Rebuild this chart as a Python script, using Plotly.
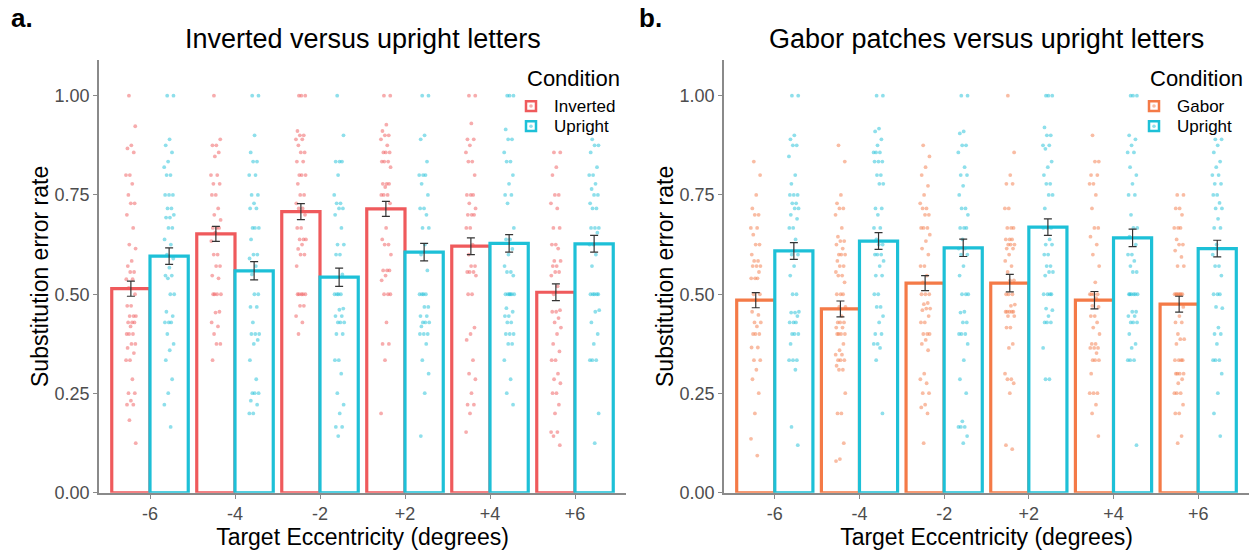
import plotly.graph_objects as go

# ---------------- data ----------------
ecc_labels = ["-6", "-4", "-2", "+2", "+4", "+6"]

# Panel a: Inverted vs Upright (bar = mean, err = SE)
inv_mean = [0.514, 0.652, 0.708, 0.715, 0.621, 0.505]
inv_se = [0.019, 0.019, 0.020, 0.019, 0.021, 0.021]
upa_mean = [0.596, 0.559, 0.543, 0.606, 0.628, 0.627]
upa_se = [0.021, 0.023, 0.023, 0.022, 0.022, 0.021]

# Panel b: Gabor vs Upright
gab_mean = [0.485, 0.463, 0.528, 0.528, 0.485, 0.475]
gab_se = [0.019, 0.020, 0.019, 0.022, 0.022, 0.020]
upb_mean = [0.609, 0.634, 0.617, 0.669, 0.642, 0.615]
upb_se = [0.021, 0.021, 0.022, 0.021, 0.022, 0.021]

# individual participant rates
inv_pts = [
    [1.00, 0.923, 0.875, 0.867, 0.857, 0.80, 0.80, 0.778, 0.75, 0.729, 0.729, 0.70, 0.667, 0.625, 0.615, 0.584, 0.571, 0.556, 0.556, 0.538, 0.538, 0.516, 0.50, 0.471, 0.471, 0.445, 0.445, 0.445, 0.429, 0.429, 0.429, 0.419, 0.40, 0.40, 0.40, 0.375, 0.375, 0.365, 0.352, 0.334, 0.334, 0.286, 0.251, 0.251, 0.232, 0.222, 0.222, 0.183, 0.125],
    [1.00, 0.89, 0.875, 0.875, 0.857, 0.847, 0.80, 0.80, 0.778, 0.778, 0.75, 0.75, 0.716, 0.70, 0.687, 0.667, 0.667, 0.667, 0.655, 0.634, 0.60, 0.60, 0.571, 0.571, 0.547, 0.54, 0.50, 0.50, 0.50, 0.50, 0.456, 0.454, 0.429, 0.419, 0.40, 0.375, 0.375, 0.334],
    [1.00, 1.00, 1.00, 0.911, 0.90, 0.90, 0.89, 0.89, 0.875, 0.857, 0.857, 0.834, 0.834, 0.80, 0.80, 0.80, 0.778, 0.75, 0.75, 0.729, 0.716, 0.716, 0.70, 0.667, 0.667, 0.638, 0.638, 0.638, 0.625, 0.614, 0.60, 0.60, 0.571, 0.50, 0.50, 0.50, 0.50, 0.50, 0.471, 0.471, 0.445, 0.429, 0.40],
    [1.00, 1.00, 0.927, 0.911, 0.90, 0.90, 0.89, 0.875, 0.857, 0.857, 0.857, 0.834, 0.834, 0.834, 0.82, 0.778, 0.778, 0.778, 0.77, 0.75, 0.75, 0.75, 0.729, 0.667, 0.638, 0.625, 0.625, 0.60, 0.56, 0.56, 0.56, 0.547, 0.535, 0.50, 0.50, 0.50, 0.429, 0.375, 0.375, 0.334, 0.20],
    [1.00, 1.00, 0.93, 0.89, 0.89, 0.875, 0.857, 0.834, 0.834, 0.80, 0.75, 0.75, 0.75, 0.729, 0.716, 0.70, 0.70, 0.70, 0.667, 0.667, 0.625, 0.60, 0.571, 0.571, 0.556, 0.556, 0.556, 0.547, 0.50, 0.50, 0.416, 0.40, 0.385, 0.334, 0.30, 0.286, 0.251, 0.222, 0.222, 0.20, 0.153],
    [0.857, 0.857, 0.82, 0.80, 0.75, 0.75, 0.729, 0.716, 0.667, 0.667, 0.625, 0.625, 0.615, 0.584, 0.584, 0.571, 0.571, 0.556, 0.556, 0.547, 0.52, 0.50, 0.46, 0.456, 0.456, 0.44, 0.429, 0.416, 0.40, 0.375, 0.356, 0.334, 0.334, 0.30, 0.286, 0.276, 0.251, 0.251, 0.222, 0.20, 0.153, 0.153, 0.143, 0.12],
]
upa_pts = [
    [1.00, 1.00, 0.89, 0.875, 0.857, 0.834, 0.82, 0.80, 0.80, 0.75, 0.75, 0.75, 0.716, 0.716, 0.70, 0.693, 0.693, 0.667, 0.667, 0.638, 0.625, 0.60, 0.59, 0.567, 0.547, 0.547, 0.54, 0.50, 0.50, 0.456, 0.445, 0.429, 0.429, 0.429, 0.40, 0.375, 0.359, 0.334, 0.286, 0.251, 0.222, 0.166],
    [1.00, 1.00, 0.90, 0.857, 0.834, 0.834, 0.80, 0.80, 0.75, 0.75, 0.729, 0.716, 0.716, 0.667, 0.667, 0.667, 0.638, 0.60, 0.60, 0.59, 0.571, 0.55, 0.50, 0.50, 0.468, 0.468, 0.429, 0.40, 0.40, 0.40, 0.385, 0.375, 0.334, 0.286, 0.251, 0.251, 0.251, 0.232, 0.222, 0.20, 0.20],
    [1.00, 0.90, 0.834, 0.834, 0.834, 0.80, 0.75, 0.729, 0.729, 0.716, 0.716, 0.70, 0.667, 0.625, 0.625, 0.60, 0.60, 0.55, 0.50, 0.50, 0.50, 0.50, 0.464, 0.461, 0.445, 0.445, 0.429, 0.429, 0.429, 0.40, 0.40, 0.334, 0.334, 0.30, 0.251, 0.222, 0.20, 0.166, 0.166, 0.143],
    [1.00, 1.00, 0.90, 0.89, 0.834, 0.80, 0.80, 0.80, 0.778, 0.75, 0.716, 0.716, 0.70, 0.667, 0.667, 0.625, 0.60, 0.56, 0.50, 0.50, 0.50, 0.50, 0.468, 0.468, 0.445, 0.445, 0.429, 0.429, 0.429, 0.419, 0.40, 0.40, 0.40, 0.375, 0.334, 0.30, 0.251, 0.143],
    [1.00, 1.00, 1.00, 0.915, 0.89, 0.89, 0.857, 0.834, 0.834, 0.80, 0.778, 0.75, 0.75, 0.729, 0.667, 0.638, 0.638, 0.614, 0.60, 0.571, 0.556, 0.556, 0.547, 0.50, 0.50, 0.50, 0.50, 0.50, 0.50, 0.465, 0.456, 0.445, 0.445, 0.429, 0.429, 0.40, 0.40, 0.40, 0.375, 0.375, 0.334, 0.286, 0.251, 0.222],
    [0.89, 0.875, 0.875, 0.857, 0.82, 0.80, 0.80, 0.778, 0.765, 0.75, 0.75, 0.729, 0.716, 0.716, 0.667, 0.667, 0.667, 0.655, 0.625, 0.625, 0.60, 0.571, 0.50, 0.50, 0.50, 0.50, 0.50, 0.46, 0.456, 0.429, 0.40, 0.375, 0.334, 0.334, 0.334, 0.20, 0.125],
]
gab_pts = [
    [0.834, 0.80, 0.75, 0.716, 0.70, 0.70, 0.667, 0.667, 0.65, 0.625, 0.625, 0.60, 0.584, 0.584, 0.571, 0.571, 0.571, 0.556, 0.54, 0.54, 0.54, 0.50, 0.50, 0.485, 0.456, 0.448, 0.429, 0.429, 0.419, 0.40, 0.40, 0.40, 0.366, 0.366, 0.334, 0.334, 0.31, 0.286, 0.251, 0.20, 0.136, 0.094],
    [0.875, 0.834, 0.75, 0.729, 0.716, 0.716, 0.70, 0.667, 0.645, 0.634, 0.634, 0.625, 0.615, 0.60, 0.60, 0.60, 0.584, 0.571, 0.571, 0.556, 0.547, 0.547, 0.53, 0.50, 0.50, 0.50, 0.468, 0.468, 0.445, 0.429, 0.429, 0.429, 0.416, 0.416, 0.40, 0.40, 0.40, 0.40, 0.375, 0.359, 0.348, 0.348, 0.334, 0.334, 0.334, 0.32, 0.31, 0.31, 0.251, 0.20, 0.20, 0.125, 0.085, 0.08],
    [0.875, 0.847, 0.82, 0.80, 0.773, 0.75, 0.729, 0.716, 0.716, 0.70, 0.70, 0.667, 0.667, 0.667, 0.65, 0.634, 0.615, 0.60, 0.571, 0.571, 0.547, 0.53, 0.50, 0.50, 0.50, 0.478, 0.475, 0.464, 0.464, 0.46, 0.445, 0.429, 0.429, 0.40, 0.40, 0.40, 0.385, 0.375, 0.359, 0.30, 0.286, 0.276, 0.251, 0.251, 0.222, 0.215, 0.20, 0.125],
    [1.00, 0.857, 0.80, 0.778, 0.778, 0.716, 0.716, 0.667, 0.667, 0.667, 0.638, 0.638, 0.638, 0.625, 0.625, 0.625, 0.615, 0.615, 0.60, 0.584, 0.571, 0.556, 0.535, 0.535, 0.50, 0.50, 0.50, 0.474, 0.471, 0.456, 0.456, 0.456, 0.456, 0.456, 0.445, 0.445, 0.416, 0.416, 0.375, 0.365, 0.30, 0.286, 0.286, 0.276, 0.251, 0.12, 0.11],
    [0.90, 0.834, 0.834, 0.80, 0.80, 0.778, 0.778, 0.75, 0.716, 0.667, 0.667, 0.645, 0.625, 0.60, 0.571, 0.53, 0.50, 0.50, 0.50, 0.50, 0.49, 0.471, 0.468, 0.445, 0.445, 0.429, 0.416, 0.40, 0.375, 0.375, 0.365, 0.365, 0.365, 0.352, 0.334, 0.334, 0.334, 0.30, 0.251, 0.251, 0.251, 0.222, 0.20, 0.143],
    [0.75, 0.75, 0.716, 0.716, 0.70, 0.667, 0.667, 0.667, 0.638, 0.625, 0.625, 0.61, 0.594, 0.571, 0.571, 0.50, 0.50, 0.50, 0.50, 0.50, 0.50, 0.50, 0.468, 0.445, 0.429, 0.429, 0.40, 0.387, 0.387, 0.375, 0.334, 0.334, 0.334, 0.334, 0.30, 0.30, 0.30, 0.30, 0.286, 0.276, 0.251, 0.251, 0.251, 0.222, 0.20, 0.20, 0.143, 0.125],
]
upb_pts = [
    [1.00, 1.00, 0.90, 0.89, 0.875, 0.875, 0.847, 0.80, 0.778, 0.75, 0.75, 0.75, 0.729, 0.729, 0.716, 0.716, 0.70, 0.69, 0.667, 0.667, 0.638, 0.60, 0.60, 0.571, 0.547, 0.50, 0.50, 0.456, 0.454, 0.454, 0.445, 0.429, 0.429, 0.429, 0.40, 0.40, 0.40, 0.375, 0.334, 0.334, 0.334, 0.31, 0.166, 0.12],
    [1.00, 1.00, 0.917, 0.91, 0.89, 0.875, 0.857, 0.857, 0.857, 0.834, 0.834, 0.834, 0.80, 0.80, 0.778, 0.778, 0.716, 0.716, 0.70, 0.667, 0.667, 0.638, 0.625, 0.625, 0.60, 0.60, 0.60, 0.584, 0.571, 0.547, 0.547, 0.50, 0.50, 0.468, 0.468, 0.445, 0.429, 0.40, 0.40, 0.375, 0.375, 0.365, 0.334, 0.20],
    [1.00, 1.00, 0.91, 0.905, 0.875, 0.875, 0.857, 0.82, 0.80, 0.80, 0.773, 0.75, 0.716, 0.716, 0.70, 0.667, 0.667, 0.667, 0.638, 0.615, 0.615, 0.60, 0.60, 0.571, 0.547, 0.50, 0.50, 0.50, 0.456, 0.454, 0.429, 0.429, 0.40, 0.40, 0.40, 0.375, 0.334, 0.286, 0.251, 0.18, 0.166, 0.166, 0.166, 0.143, 0.125],
    [1.00, 1.00, 1.00, 0.92, 0.90, 0.90, 0.875, 0.875, 0.866, 0.834, 0.82, 0.80, 0.778, 0.778, 0.75, 0.75, 0.716, 0.667, 0.667, 0.667, 0.638, 0.625, 0.625, 0.60, 0.60, 0.571, 0.571, 0.556, 0.556, 0.547, 0.50, 0.50, 0.50, 0.50, 0.464, 0.46, 0.445, 0.429, 0.429, 0.429, 0.365, 0.286, 0.286],
    [1.00, 1.00, 1.00, 0.90, 0.89, 0.875, 0.857, 0.857, 0.82, 0.80, 0.778, 0.75, 0.75, 0.70, 0.667, 0.667, 0.645, 0.625, 0.60, 0.60, 0.584, 0.571, 0.556, 0.556, 0.50, 0.50, 0.50, 0.50, 0.50, 0.50, 0.456, 0.456, 0.445, 0.445, 0.429, 0.429, 0.429, 0.40, 0.375, 0.365, 0.334, 0.334, 0.334, 0.12],
    [0.89, 0.89, 0.875, 0.857, 0.834, 0.82, 0.80, 0.80, 0.778, 0.778, 0.75, 0.75, 0.73, 0.716, 0.716, 0.69, 0.667, 0.667, 0.625, 0.60, 0.571, 0.571, 0.547, 0.50, 0.50, 0.50, 0.468, 0.465, 0.416, 0.40, 0.40, 0.375, 0.334, 0.334, 0.334, 0.30, 0.251, 0.20, 0.143],
]

legend_title = "Condition"
legend_a_names = ["Inverted", "Upright"]
legend_b_names = ["Gabor", "Upright"]

# ---------------- style ----------------
RED = "#EF5A5C"
CYAN = "#1DC0D7"
ORANGE = "#F47A47"
FONT = "Liberation Sans, Arial, Helvetica, sans-serif"
BARW = 0.45
JIT = 0.06
W, H = 1256, 550

pos = list(range(1, len(ecc_labels) + 1))

fig = go.Figure()


def add_series(name, color, means, ses, pts, side, xa, ya):
    off = -BARW if side == 0 else 0.0
    centers = [p + off + BARW / 2 for p in pos]
    fig.add_trace(go.Bar(
        x=pos, y=means, width=BARW, offset=off, name=name, showlegend=False,
        marker=dict(color="white", line=dict(color=color, width=3.2)),
        xaxis=xa, yaxis=ya, hoverinfo="skip"))
    # jittered participant points (deterministic golden-ratio jitter)
    xs, ys = [], []
    for c, col in zip(centers, pts):
        for i, v in enumerate(col):
            frac = (i * 0.6180339887 + 0.31) % 1.0
            xs.append(c + (frac - 0.5) * 2 * JIT)
            ys.append(v)
    fig.add_trace(go.Scatter(
        x=xs, y=ys, mode="markers", showlegend=False,
        marker=dict(color=color, size=3.8, opacity=0.5, line=dict(width=0)),
        xaxis=xa, yaxis=ya, hoverinfo="skip"))
    # error bars
    fig.add_trace(go.Scatter(
        x=centers, y=means, mode="markers", showlegend=False,
        marker=dict(size=0.1, color="rgba(0,0,0,0)"),
        error_y=dict(type="data", array=ses, color="#333333", thickness=1.2, width=4),
        xaxis=xa, yaxis=ya, hoverinfo="skip"))


add_series("Inverted", RED, inv_mean, inv_se, inv_pts, 0, "x", "y")
add_series("Upright", CYAN, upa_mean, upa_se, upa_pts, 1, "x", "y")
add_series("Gabor", ORANGE, gab_mean, gab_se, gab_pts, 0, "x2", "y2")
add_series("Upright", CYAN, upb_mean, upb_se, upb_pts, 1, "x2", "y2")

ydom = [(H - 502) / H, (H - 61) / H]
xdom_a = [99 / W, 626 / W]
xdom_b = [724 / W, 1249 / W]

axis_common = dict(
    showline=True, linecolor="#8a8a8a", linewidth=1.5, ticks="outside",
    tickcolor="#8a8a8a", ticklen=4, tickwidth=1.2, showgrid=False, zeroline=False,
    tickfont=dict(family=FONT, size=18, color="#4d4d4d"),
)
xaxis_common = dict(axis_common, range=[0.4, 6.6], tickvals=pos, ticktext=ecc_labels,
                    title=dict(text="Target Eccentricity (degrees)",
                               font=dict(family=FONT, size=23, color="black"), standoff=2))
yaxis_common = dict(axis_common, range=[0, 1.09], tickvals=[0, 0.25, 0.5, 0.75, 1.0],
                    tickformat=".2f",
                    title=dict(text="Substitution error rate",
                               font=dict(family=FONT, size=23, color="black"), standoff=0))

annotations = [
    dict(text="<b>a.</b>", x=9 / W, y=1 - 18 / H, xref="paper", yref="paper",
         xanchor="left", yanchor="middle", showarrow=False,
         font=dict(family=FONT, size=26, color="black")),
    dict(text="<b>b.</b>", x=637 / W, y=1 - 18 / H, xref="paper", yref="paper",
         xanchor="left", yanchor="middle", showarrow=False,
         font=dict(family=FONT, size=26, color="black")),
    dict(text="Inverted versus upright letters", x=sum(xdom_a) / 2, y=1 - 40 / H,
         xref="paper", yref="paper", xanchor="center", yanchor="middle", showarrow=False,
         font=dict(family=FONT, size=27, color="black")),
    dict(text="Gabor patches versus upright letters", x=sum(xdom_b) / 2, y=1 - 40 / H,
         xref="paper", yref="paper", xanchor="center", yanchor="middle", showarrow=False,
         font=dict(family=FONT, size=27, color="black")),
]
shapes = []


def add_legend(x0, names, colors):
    # legend title
    annotations.append(dict(text=legend_title, x=x0 / W, y=1 - 80 / H, xref="paper", yref="paper",
                            xanchor="left", yanchor="middle", showarrow=False, borderpad=0,
                            font=dict(family=FONT, size=22, color="black")))
    for k, (nm, colr) in enumerate(zip(names, colors)):
        cy = 108 + k * 20.5
        sx = x0 + 5
        shapes.append(dict(type="rect", xref="paper", yref="paper",
                           x0=(sx - 5) / W, x1=(sx + 5) / W,
                           y0=1 - (cy + 5) / H, y1=1 - (cy - 5) / H,
                           line=dict(color=colr, width=2.5), fillcolor="white"))
        shapes.append(dict(type="circle", xref="paper", yref="paper",
                           x0=(sx - 1.8) / W, x1=(sx + 1.8) / W,
                           y0=1 - (cy + 1.8) / H, y1=1 - (cy - 1.8) / H,
                           line=dict(width=0), fillcolor=colr, opacity=0.5))
        annotations.append(dict(text=nm, x=(x0 + 27) / W, y=1 - (cy + 0.5) / H,
                                xref="paper", yref="paper", xanchor="left", yanchor="middle",
                                showarrow=False, borderpad=0,
                                font=dict(family=FONT, size=17, color="black")))


add_legend(526, legend_a_names, [RED, CYAN])
add_legend(1149, legend_b_names, [ORANGE, CYAN])

fig.update_layout(
    width=W, height=H, margin=dict(l=0, r=0, t=0, b=0),
    paper_bgcolor="white", plot_bgcolor="white", barmode="overlay",
    font=dict(family=FONT), showlegend=False,
    xaxis=dict(xaxis_common, domain=xdom_a, anchor="y"),
    yaxis=dict(yaxis_common, domain=ydom, anchor="x"),
    xaxis2=dict(xaxis_common, domain=xdom_b, anchor="y2"),
    yaxis2=dict(yaxis_common, domain=ydom, anchor="x2"),
    annotations=annotations, shapes=shapes,
)

fig.write_html("out.html", include_plotlyjs=True, config={"displayModeBar": False})
